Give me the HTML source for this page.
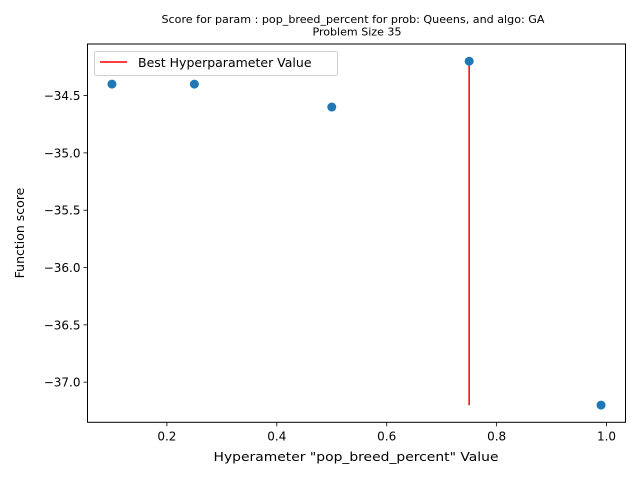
<!DOCTYPE html>
<html><head><meta charset="utf-8"><style>
body{margin:0;background:#fff}
svg{display:block;font-family:"DejaVu Sans","Liberation Sans",sans-serif}
</style></head><body>
<svg width="640" height="480" viewBox="0 0 640 480" id="chart"></svg>
<script>
const xValues=[0.1,0.25,0.5,0.75,0.99];
const yValues=[-34.4,-34.4,-34.6,-34.2,-37.2];
const bestX=0.75;
const xTicks=[0.2,0.4,0.6,0.8,1.0];
const xTickLabels=["0.2","0.4","0.6","0.8","1.0"];
const yTicks=[-34.5,-35.0,-35.5,-36.0,-36.5,-37.0];
const yTickLabels=["−34.5","−35.0","−35.5","−36.0","−36.5","−37.0"];
const L=87.5,R=625.5,T=44,B=422.3;
const xmin=Math.min(...xValues),xmax=Math.max(...xValues),xm=(xmax-xmin)*0.05;
const ymin=Math.min(...yValues),ymax=Math.max(...yValues),ym=(ymax-ymin)*0.05;
const sx=v=>L+(v-(xmin-xm))/((xmax+xm)-(xmin-xm))*(R-L);
const sy=v=>B-(v-(ymin-ym))/((ymax+ym)-(ymin-ym))*(B-T);
const svg=document.getElementById('chart');
const NS='http://www.w3.org/2000/svg';
function mk(tag,attrs,parent){const e=document.createElementNS(NS,tag);for(const k in attrs)e.setAttribute(k,attrs[k]);(parent||svg).appendChild(e);return e;}
// title
let t=mk('text',{x:353,y:23,'font-size':'10.5','text-anchor':'middle',fill:'#000',textLength:383,lengthAdjust:'spacingAndGlyphs'});


t.textContent='Score for param : pop_breed_percent for prob: Queens, and algo: GA';
t=mk('text',{x:357,y:35.5,'font-size':'10.5','text-anchor':'middle',fill:'#000',textLength:89,lengthAdjust:'spacingAndGlyphs'});


t.textContent='Problem Size 35';
// best line
let bl=mk('line',{x1:sx(bestX),x2:sx(bestX),y1:sy(Math.max(...yValues)),y2:sy(Math.min(...yValues)),stroke:'#ff0000','stroke-width':1.5});


// points
xValues.forEach((x,i)=>{
 const c=mk('circle',{cx:sx(x),cy:sy(yValues[i]),r:4.5,fill:'#1f77b4'});
 
 
});
// axes frame
let fr=mk('rect',{x:L,y:T,width:R-L,height:B-T,fill:'none',stroke:'#000','stroke-width':1});


xTicks.forEach((v,i)=>{
 const x=sx(v);
 const tk=mk('line',{x1:x,x2:x,y1:B,y2:B+4,stroke:'#000','stroke-width':0.8});
 
 
 const lb=mk('text',{x:x,y:B+18,'font-size':'12','text-anchor':'middle',fill:'#000'});
 
 
 lb.textContent=xTickLabels[i];
});
yTicks.forEach((v,i)=>{
 const y=sy(v);
 const tk=mk('line',{x1:L-4,x2:L,y1:y,y2:y,stroke:'#000','stroke-width':0.8});
 
 
 const lb=mk('text',{x:L-7,y:y+4.5,'font-size':'12','text-anchor':'end',fill:'#000'});
 
 
 lb.textContent=yTickLabels[i];
});
t=mk('text',{x:356,y:461,'font-size':'12.5','text-anchor':'middle',fill:'#000',textLength:285,lengthAdjust:'spacingAndGlyphs'});


t.textContent='Hyperameter "pop_breed_percent" Value';
t=mk('text',{x:0,y:0,'font-size':'12.5','text-anchor':'middle',fill:'#000',transform:'translate(24,233) rotate(-90)'});


t.textContent='Function score';
// legend
const g=mk('g',{});


mk('rect',{x:94.5,y:51.5,width:243,height:24,rx:2,fill:'#fff','fill-opacity':0.8,stroke:'#d0d0d0','stroke-width':1},g);
mk('line',{x1:100,x2:127,y1:62,y2:62,stroke:'#ff0000','stroke-width':1.5},g);
t=mk('text',{x:138,y:67,'font-size':'12.5',fill:'#000'},g);


t.textContent='Best Hyperparameter Value';
</script>
</body></html>
